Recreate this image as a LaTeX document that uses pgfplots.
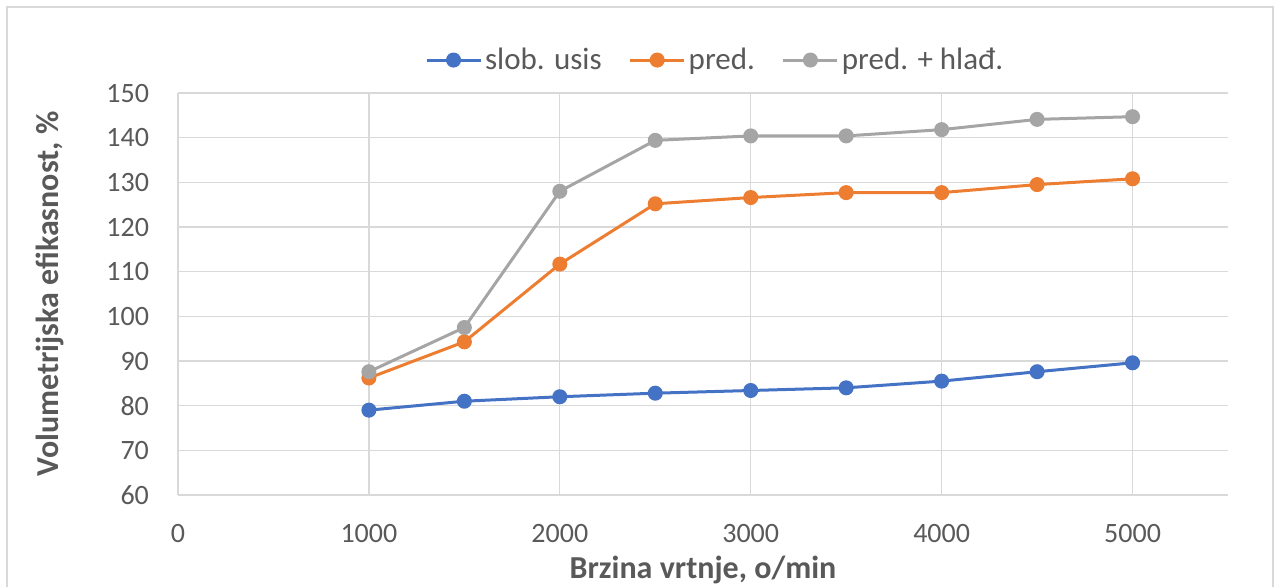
\documentclass[border=0pt]{standalone}
\usepackage{pgfplots}
\pgfplotsset{compat=1.18}
\usepackage{fontspec}
\setmainfont{Carlito}
\definecolor{cblue}{HTML}{4472C4}
\definecolor{corange}{HTML}{ED7D31}
\definecolor{cgray}{HTML}{A5A5A5}
\definecolor{cgrid}{HTML}{D9D9D9}
\definecolor{ctext}{HTML}{595959}
\begin{document}
\begin{tikzpicture}[x=0.5pt,y=0.5pt]
\useasboundingbox (0,0) rectangle (1279,-586);
\draw[cgrid,line width=0.8pt] (7,-600) -- (7,-7) -- (1273,-7) -- (1273,-600);
\begin{axis}[
  at={(89pt,-247.5pt)}, anchor=south west,
  scale only axis, width=525pt, height=201pt,
  xmin=0, xmax=5500, ymin=60, ymax=150,
  xtick={0,1000,...,5000}, ytick={60,70,...,150},
  xmajorgrids, ymajorgrids,
  grid style={cgrid,line width=0.6pt},
  axis line style={cgrid,line width=0.6pt},
  axis x line*=bottom, axis y line*=left,
  hide obscured x ticks=false, hide obscured y ticks=false,
  x axis line style={-}, y axis line style={-},
  tick style={draw=none},
  ticklabel style={font=\fontsize{14}{16}\selectfont, text=ctext},
  /pgf/number format/assume math mode=true,
  /pgf/number format/1000 sep={},
  xticklabel style={yshift=-11pt},
  yticklabel style={xshift=-11pt},
  xlabel={\textbf{Brzina vrtnje, o/min}},
  ylabel={\textbf{Volumetrijska efikasnost, \%}},
  label style={font=\fontsize{16}{18}\selectfont, text=ctext},
  xlabel style={at={(axis description cs:0.5,-0.1866)}, anchor=center},
  ylabel style={at={(axis description cs:-0.1219,0.5)}, anchor=center},
  legend columns=3,
  legend style={at={(axis description cs:0.512,1.082)}, anchor=center, draw=none, fill=none,
    font=\fontsize{15.5}{17}\selectfont, text=ctext, inner sep=0pt,
    nodes={inner xsep=1.5pt},
    /tikz/every odd column/.append style={column sep=0pt},
    /tikz/every even column/.append style={column sep=12pt}},
  legend cell align=left,
  legend image code/.code={\draw[mark repeat=2,mark phase=2] plot coordinates {(0pt,0pt) (13.5pt,0pt) (27pt,0pt)};},
  every axis plot/.append style={line width=1.5pt, mark=*, mark size=3pt},
]
\addplot[cblue, mark options={fill=cblue}] coordinates {
(1000,79.0) (1500,81.0) (2000,82.0) (2500,82.8) (3000,83.4) (3500,84.0) (4000,85.5) (4500,87.6) (5000,89.6)};
\addlegendentry{slob. usis}
\addplot[corange, mark options={fill=corange}] coordinates {
(1000,86.2) (1500,94.3) (2000,111.7) (2500,125.2) (3000,126.6) (3500,127.7) (4000,127.7) (4500,129.5) (5000,130.8)};
\addlegendentry{pred.}
\addplot[cgray, mark options={fill=cgray}] coordinates {
(1000,87.6) (1500,97.5) (2000,128.0) (2500,139.4) (3000,140.4) (3500,140.4) (4000,141.8) (4500,144.1) (5000,144.7)};
\addlegendentry{pred. + hlađ.}
\end{axis}
\end{tikzpicture}
\end{document}
